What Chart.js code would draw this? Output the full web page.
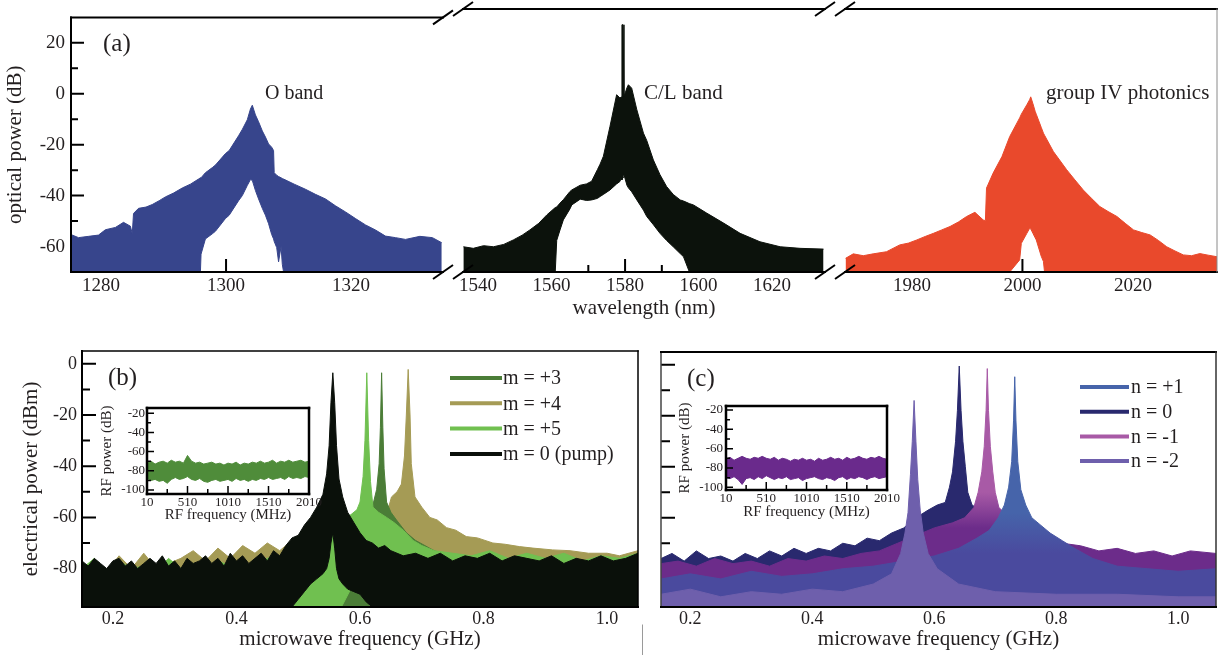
<!DOCTYPE html>
<html><head><meta charset="utf-8">
<script src="https://cdn.jsdelivr.net/npm/chart.js@4.4.1/dist/chart.umd.min.js"></script>
<style>
html,body{margin:0;padding:0;background:#fff;}
body{width:1225px;height:655px;position:relative;overflow:hidden;}
canvas{position:absolute;}
</style></head><body>
<canvas id="ca1" style="left:0px;top:0px" width="460" height="330"></canvas>
<canvas id="ca2" style="left:445px;top:0px" width="400" height="330"></canvas>
<canvas id="ca3" style="left:830px;top:0px" width="395" height="330"></canvas>
<canvas id="cb" style="left:0px;top:330px" width="650" height="325"></canvas>
<canvas id="cc" style="left:645px;top:330px" width="580" height="325"></canvas>
<canvas id="cbi" style="left:90px;top:395px" width="245" height="140"></canvas>
<canvas id="cci" style="left:669px;top:393px" width="245" height="140"></canvas>
<script>
// ---------------- DATA ----------------
// (a) O band
const oX  = [1275.2,1276.4,1278.0,1279.6,1280.7,1282.3,1283.6,1284.7,1285.0,1285.2,1286.0,1287.2,1288.2,1289.3,1290.3,1291.6,1293.0,1294.3,1295.6,1295.9,1296.0,1296.7,1297.8,1298.3,1299.9,1300.5,1302.0,1302.6,1303.4,1303.9,1304.2,1304.7,1305.2,1305.8,1306.3,1306.8,1307.3,1307.6,1307.7,1308.1,1308.4,1308.8,1309.0,1309.2,1310.9,1312.7,1314.3,1315.9,1317.5,1319.1,1320.7,1322.3,1323.9,1325.5,1327.1,1328.7,1331.0,1333.0,1334.5];
const oUp = [-55.3,-56.5,-56,-55.5,-53.4,-52.5,-50.5,-52,-55,-47,-45,-44.5,-43.5,-42,-40.5,-39,-37,-35.5,-33.5,-33,-33,-31,-29,-28,-23.5,-22.3,-16.5,-14,-10.2,-6,-4.5,-8.3,-11,-14.6,-17,-19.7,-21,-22.3,-31,-32,-32.5,-33,-33.3,-33.5,-35.5,-37.5,-39.5,-41.3,-44,-46.4,-49,-51.5,-53.5,-55.9,-56.5,-57.2,-56,-56.5,-58.5];
const oLo = [-70,-70,-70,-70,-70,-70,-70,-70,-70,-70,-70,-70,-70,-70,-70,-70,-70,-70,-70,-70,-63,-57,-55,-54,-49,-47.7,-42,-40,-36,-33.7,-34,-38,-41.3,-45,-47.7,-51,-55.3,-57,-58,-60.4,-66,-60,-67,-70,-70,-70,-70,-70,-70,-70,-70,-70,-70,-70,-70,-70,-70,-70,-70];
// (a) C/L band
const clX  = [1536.0,1538.7,1541.5,1544.2,1547.0,1549.6,1552.0,1554.1,1556.5,1558.7,1561.0,1561.4,1562.3,1563.2,1565.0,1565.5,1567.8,1569.5,1570.9,1572.5,1573.2,1574.1,1575.9,1577.7,1578.6,1579.0,1579.15,1579.45,1579.7,1580.5,1580.9,1581.8,1583.2,1585.0,1585.9,1587.7,1589.5,1591.3,1593.1,1595.0,1595.9,1597.5,1598.6,1602.2,1606.8,1611.3,1616.7,1622.2,1627.6,1634.0];
const clUp = [-60.4,-61,-60,-60.4,-59.5,-57.8,-56,-54,-51.5,-48.3,-45.5,-45.3,-43.8,-42.5,-39.4,-38.8,-37,-36.5,-35.5,-31,-29,-26,-14.6,-2.6,-3.8,-3.5,24,24,-3.3,0,1.2,-0.1,-8.3,-17.2,-20,-27.4,-33,-37.5,-40.5,-42.6,-43,-44,-44.5,-47.6,-51.4,-55.3,-58.5,-60.4,-61,-61.3];
const clLo = [-70,-70,-70,-70,-70,-70,-70,-70,-70,-70,-70,-58,-54,-50.2,-46,-44.5,-42.3,-42.8,-42.6,-42,-41.3,-40.5,-38.8,-36.5,-35.6,-34,-35,-34,-33,-37,-38,-39.5,-42.6,-46.5,-48.9,-52,-55.3,-58,-60.4,-63,-64.2,-70,-70,-70,-70,-70,-70,-70,-70,-70];
// (a) group IV photonics
const g4X  = [1968.0,1969.4,1971.2,1973.0,1975.4,1977.8,1979.4,1980.9,1982.4,1983.9,1985.4,1986.9,1988.4,1989.9,1991.4,1992.9,1993.3,1993.5,1994.7,1996.3,1997.7,1999.5,1999.8,2000.8,2001.3,2001.5,2001.9,2002.3,2002.5,2003.4,2003.8,2004.0,2005.6,2008.0,2009.5,2011.0,2012.5,2014.0,2015.5,2017.1,2018.6,2020.1,2021.6,2023.1,2024.6,2026.1,2027.6,2029.1,2030.6,2032.1,2033.6,2035.2];
const g4Up = [-64.8,-63.1,-63.8,-63.1,-62.3,-59.7,-59,-57.8,-56.5,-55.3,-54,-52.7,-51,-48.9,-47.3,-50.2,-50.5,-38.1,-32.4,-26.1,-18.5,-11.4,-10,-6.4,-4.5,-3.4,-6,-8.9,-10,-15,-17.2,-18,-24.2,-31.1,-35,-38.8,-42,-45.1,-47,-48.9,-51.5,-54,-55,-55.9,-58,-60.4,-62,-63.5,-63.8,-63,-63.6,-64.2];
const g4Lo = [-70,-70,-70,-70,-70,-70,-70,-70,-70,-70,-70,-70,-70,-70,-70,-70,-70,-70,-70,-70,-70,-65.4,-59.1,-55.3,-53.4,-53.6,-55.3,-57,-57.8,-64,-66,-70,-70,-70,-70,-70,-70,-70,-70,-70,-70,-70,-70,-70,-70,-70,-70,-70,-70,-70,-70,-70];

// (b) microwave spectra
const bkX  = [0.150,0.160,0.170,0.180,0.190,0.200,0.210,0.220,0.230,0.240,0.250,0.260,0.270,0.280,0.290,0.300,0.310,0.320,0.330,0.340,0.350,0.360,0.370,0.380,0.390,0.400,0.410,0.420,0.430,0.440,0.450,0.460,0.470,0.480,0.490,0.500,0.510,0.520,0.530,0.540,0.546,0.550,0.553,0.556,0.559,0.562,0.566,0.572,0.580,0.590,0.600,0.610,0.620,0.630,0.640,0.650,0.670,0.690,0.710,0.730,0.750,0.770,0.790,0.810,0.830,0.850,0.870,0.890,0.910,0.930,0.950,0.970,0.990,1.010,1.030,1.050];
const bkUp = [-77,-79,-76,-78,-80,-77,-76,-79,-77,-80,-78,-76,-78,-75,-79,-77,-80,-76,-78,-77,-75,-78,-76,-79,-74,-77,-75,-78,-76,-74,-77,-73,-75,-71,-68,-67,-63,-60,-56,-51,-43,-32,-15,-3.5,-15,-32,-45,-52,-58,-62,-66,-69,-70,-72,-71,-73,-75,-74,-76,-74,-77,-75,-76,-74,-77,-75,-76,-77,-75,-78,-76,-77,-75,-77,-76,-74];
const bkLo = [-95,-95,-95,-95,-95,-95,-95,-95,-95,-95,-95,-95,-95,-95,-95,-95,-95,-95,-95,-95,-95,-95,-95,-95,-95,-95,-95,-95,-95,-95,-95,-95,-95,-95,-95,-92,-89,-86,-84,-82,-80,-76,-70,-66,-72,-80,-84,-86,-88,-89,-90,-93,-95,-95,-95,-95,-95,-95,-95,-95,-95,-95,-95,-95,-95,-95,-95,-95,-95,-95,-95,-95,-95,-95,-95,-95];
const lgX  = [0.150,0.170,0.190,0.210,0.230,0.250,0.270,0.290,0.310,0.330,0.350,0.370,0.390,0.410,0.430,0.450,0.470,0.490,0.510,0.530,0.550,0.570,0.585,0.595,0.600,0.605,0.608,0.611,0.614,0.617,0.621,0.630,0.643,0.655,0.670,0.686,0.700,0.720,0.750,0.780,0.810,0.840,0.870,0.900,0.930,0.960,0.990,1.020,1.050];
const lgUp = [-80,-76,-81,-77,-80,-79,-81,-76,-80,-78,-80,-77,-79,-78,-79,-76,-75,-72,-69,-65,-62,-60,-59,-57,-54,-44,-30,-3.5,-30,-46,-56,-58,-60,-62,-65,-69,-71,-73,-74,-75,-73,-76,-74,-76,-74,-77,-75,-76,-74];
const lgLo = [-95,-95,-95,-95,-95,-95,-95,-95,-95,-95,-95,-95,-95,-95,-95,-95,-95,-95,-95,-95,-95,-95,-88,-87,-86,-86,-85,-85,-88,-95,-95,-95,-95,-95,-95,-95,-95,-95,-95,-95,-95,-95,-95,-95,-95,-95,-95,-95,-95];
const dgX  = [0.150,0.200,0.250,0.300,0.350,0.400,0.450,0.500,0.550,0.580,0.600,0.615,0.622,0.627,0.631,0.633,0.635,0.637,0.639,0.643,0.650,0.659,0.675,0.690,0.720,0.760,0.800,0.850,0.900,0.950,1.000,1.050];
const dgUp = [-82,-81,-82,-80,-82,-80,-79,-76,-71,-66,-63,-58,-54,-49,-39,-25,-3.5,-25,-41,-54,-58,-61,-66,-69,-73,-76,-77,-78,-78,-79,-78,-79];
const olX  = [0.150,0.170,0.190,0.210,0.230,0.250,0.270,0.290,0.310,0.330,0.350,0.370,0.390,0.410,0.430,0.450,0.470,0.490,0.520,0.550,0.580,0.610,0.630,0.643,0.651,0.660,0.667,0.672,0.675,0.678,0.681,0.683,0.689,0.700,0.713,0.725,0.740,0.755,0.772,0.790,0.815,0.835,0.858,0.880,0.912,0.940,0.970,1.000,1.020,1.050];
const olUp = [-81,-79,-81,-75,-80,-74,-80,-78,-76,-73,-77,-72,-76,-71,-74,-70,-73,-69,-68,-67,-65,-62,-60,-59,-52,-50,-47,-36,-20,-2.2,-20,-39,-52,-56,-60,-61,-64,-65,-67.5,-68,-70,-70.5,-71.4,-72,-72.7,-73,-74,-74,-75,-73];

// (c) microwave spectra
const n0X  = [0.152,0.170,0.190,0.210,0.230,0.250,0.270,0.290,0.310,0.330,0.350,0.370,0.390,0.410,0.430,0.450,0.470,0.490,0.510,0.530,0.550,0.570,0.590,0.605,0.618,0.625,0.630,0.635,0.638,0.641,0.644,0.647,0.651,0.655,0.662,0.675,0.690,0.710,0.730,0.760,0.800,0.850,0.900,0.950,1.000,1.062];
const n0Up = [-76,-74,-77,-73,-76,-75,-77,-74,-76,-73,-75,-72,-74,-72,-73,-70,-71,-68,-69,-66,-64,-60,-57,-55,-54,-48,-42,-30,-18,-0.5,-18,-30,-40,-50,-55,-57,-60,-63,-66,-70,-74,-77,-78,-79,-79,-80];
const nm1X  = [0.152,0.180,0.210,0.240,0.270,0.300,0.330,0.360,0.390,0.420,0.450,0.480,0.510,0.540,0.570,0.600,0.630,0.650,0.665,0.672,0.678,0.682,0.685,0.687,0.689,0.692,0.696,0.700,0.706,0.715,0.730,0.750,0.780,0.810,0.840,0.870,0.900,0.930,0.960,0.990,1.020,1.062];
const nm1Up = [-78,-77,-79,-76,-78,-77,-79,-76,-77,-75,-76,-74,-73,-70,-67,-64,-62,-60,-56,-50,-42,-32,-18,-1.5,-18,-32,-42,-50,-56,-58,-61,-64,-67,-70,-71,-73,-72,-74,-73,-75,-73,-74];
const np1X  = [0.152,0.200,0.250,0.300,0.350,0.400,0.450,0.500,0.550,0.600,0.640,0.670,0.690,0.705,0.715,0.722,0.727,0.730,0.732,0.734,0.737,0.742,0.750,0.760,0.775,0.790,0.810,0.830,0.860,0.900,0.950,1.000,1.062];
const np1Up = [-84,-82,-84,-81,-83,-82,-80,-79,-77,-75,-72,-68,-65,-60,-55,-48,-38,-22,-4.7,-22,-38,-49,-55,-60,-63,-66,-69,-72,-76,-79,-80,-81,-80];
const nm2X  = [0.152,0.200,0.250,0.300,0.350,0.400,0.450,0.500,0.530,0.545,0.552,0.557,0.561,0.564,0.567,0.570,0.573,0.577,0.582,0.590,0.605,0.640,0.700,0.800,0.900,1.000,1.062];
const nm2Up = [-90,-88,-91,-89,-90,-88,-89,-86,-82,-74,-66,-58,-43,-30,-14,-30,-45,-57,-66,-74,-80,-86,-89,-90,-90,-91,-91];

// insets (RF noise)
const insX = [10,60,110,160,210,260,310,360,410,460,510,560,610,660,710,760,810,860,910,960,1010,1060,1110,1160,1210,1260,1310,1360,1410,1460,1510,1560,1610,1660,1710,1760,1810,1860,1910,1960,2010];
const biUp = [-72,-70,-73,-71,-70,-72,-69,-71,-70,-72,-64,-70,-72,-71,-73,-72,-71,-73,-72,-74,-72,-73,-71,-74,-72,-73,-71,-72,-70,-72,-71,-69,-72,-70,-71,-69,-71,-70,-69,-71,-70];
const biLo = [-88,-90,-89,-91,-90,-93,-89,-87,-89,-88,-86,-89,-90,-88,-91,-92,-90,-89,-91,-90,-89,-91,-88,-90,-89,-91,-89,-90,-88,-89,-87,-89,-88,-87,-89,-86,-88,-87,-88,-86,-87];
const ciUp = [-71,-69,-72,-70,-68,-70,-71,-69,-70,-68,-70,-71,-69,-72,-70,-71,-73,-71,-72,-70,-72,-71,-73,-70,-72,-71,-69,-71,-70,-72,-69,-71,-70,-68,-70,-71,-69,-70,-68,-70,-71];
const ciLo = [-90,-91,-89,-92,-97,-91,-90,-92,-89,-91,-88,-90,-92,-90,-91,-89,-92,-91,-90,-93,-91,-90,-89,-91,-92,-90,-91,-93,-90,-89,-92,-90,-91,-89,-90,-92,-90,-89,-91,-90,-89];

// ticks
const yTicksA = [-60,-40,-20,0,20], yLabelsA = ['-60','-40','-20','0','20'], yMinorA = [-50,-30,-10,10];
const xTicksO = [1280,1300,1320], xLabelsO = ['1280','1300','1320'], xMinorO = [1290,1310,1330];
const xTicksCL = [1540,1560,1580,1600,1620], xLabelsCL = ['1540','1560','1580','1600','1620'], xMinorCL = [1550,1570,1590,1610,1630];
const xTicksG4 = [1980,2000,2020], xLabelsG4 = ['1980','2000','2020'], xMinorG4 = [1970,1990,2010,2030];
const xTicksMW = [0.2,0.4,0.6,0.8,1.0], xLabelsMW = ['0.2','0.4','0.6','0.8','1.0'], xMinorMW = [0.3,0.5,0.7,0.9];
const yTicksMW = [-80,-60,-40,-20,0], yLabelsMW = ['-80','-60','-40','-20','0'], yMinorMW = [-90,-70,-50,-30,-10];
const xTicksRF = [10,510,1010,1510,2010], xLabelsRF = ['10','510','1010','1510','2010'], xMinorRF = [260,760,1260,1760];
const yTicksRF = [-100,-80,-60,-40,-20], yLabelsRF = ['-100','-80','-60','-40','-20'], yMinorRF = [-90,-70,-50,-30];

// legends
const legendB = ['m = +3','m = +4','m = +5','m = 0 (pump)'];
const legendC = ['n = +1','n = 0','n = -1','n = -2'];
const colorsB = {'m = +3':'#4b7d37','m = +4':'#a59b55','m = +5':'#70c050','m = 0 (pump)':'#0a100a'};
const colorsC = {'n = +1':'#4664aa','n = 0':'#29296e','n = -1':'#a85aa6','n = -2':'#6e5fac'};

// ---------------- RENDER ----------------
const SERIF = '"Liberation Serif", "Times New Roman", Times, serif';
const TXT = '#231f20';

function pts(xs, ys){ return xs.map((x,i)=>({x:x, y:ys[i]})); }
function pair(label, xs, up, lo, color, bg){
  return [
    {label:label, data:pts(xs,up), borderColor:color, backgroundColor:bg||color, borderWidth:1, fill:'+1', pointRadius:0},
    {label:label+' lower', data:pts(xs,lo), borderColor:color, borderWidth:1, fill:false, pointRadius:0}
  ];
}
function single(label, xs, up, color, bg){
  return [{label:label, data:pts(xs,up), borderColor:color, backgroundColor:bg||color, borderWidth:1, fill:'start', pointRadius:0}];
}
// vertical colour transition (peak colour above, noise-floor tint below)
function vgrad(vTop, vBot, cTop, cBot){
  return function(ctx){
    const ch=ctx.chart; if(!ch.chartArea) return cTop;
    const y=ch.scales.y;
    const g=ch.ctx.createLinearGradient(0,y.getPixelForValue(vTop),0,y.getPixelForValue(vBot));
    g.addColorStop(0,cTop); g.addColorStop(1,cBot);
    return g;
  };
}

function drawTicks(chart, tk){
  const {ctx, chartArea:a, scales} = chart;
  ctx.save();
  ctx.strokeStyle = '#000'; ctx.lineWidth = tk.w; ctx.lineCap = 'butt';
  ctx.beginPath();
  if (tk.x){
    const s = scales.x;
    tk.x.major.forEach(v=>{const p=s.getPixelForValue(v); ctx.moveTo(p,a.bottom); ctx.lineTo(p,a.bottom-tk.x.len[0]);});
    tk.x.minor.forEach(v=>{const p=s.getPixelForValue(v); ctx.moveTo(p,a.bottom); ctx.lineTo(p,a.bottom-tk.x.len[1]);});
  }
  if (tk.y){
    const s = scales.y;
    tk.y.major.forEach(v=>{const p=s.getPixelForValue(v); ctx.moveTo(a.left,p); ctx.lineTo(a.left+tk.y.len[0],p);});
    tk.y.minor.forEach(v=>{const p=s.getPixelForValue(v); ctx.moveTo(a.left,p); ctx.lineTo(a.left+tk.y.len[1],p);});
  }
  ctx.stroke();
  ctx.restore();
}

function deco(o){
  return {
    id:'deco',
    beforeDatasetsDraw(chart){
      const {ctx, chartArea:a} = chart;
      if (o.bg){ ctx.save(); ctx.fillStyle='#fff'; ctx.fillRect(a.left,a.top,a.right-a.left,a.bottom-a.top); ctx.restore(); }
      if (o.tk && !o.tkTop) drawTicks(chart, o.tk);
    },
    afterDatasetsDraw(chart){
      const {ctx, chartArea:a} = chart;
      if (o.tk && o.tkTop) drawTicks(chart, o.tk);
      ctx.save();
      (o.frame||[]).forEach(f=>{
        ctx.strokeStyle=f.c; ctx.lineWidth=f.w; ctx.lineCap='square';
        ctx.beginPath();
        if (f.s==='top'){ctx.moveTo(a.left,a.top);ctx.lineTo(a.right,a.top);}
        if (f.s==='bottom'){ctx.moveTo(a.left,a.bottom);ctx.lineTo(a.right,a.bottom);}
        if (f.s==='left'){ctx.moveTo(a.left,a.top);ctx.lineTo(a.left,a.bottom);}
        if (f.s==='right'){ctx.moveTo(a.right,a.top);ctx.lineTo(a.right,a.bottom);}
        ctx.stroke();
      });
      (o.breaks||[]).forEach(side=>{
        const x = side==='left'?a.left:a.right;
        ctx.strokeStyle='#000'; ctx.lineWidth=2; ctx.lineCap='butt';
        [a.top,a.bottom].forEach(y=>{ctx.beginPath();ctx.moveTo(x-10,y+7);ctx.lineTo(x+10,y-7);ctx.stroke();});
      });
      (o.lines||[]).forEach(l=>{
        ctx.strokeStyle=l.c; ctx.lineWidth=l.w; ctx.beginPath();
        ctx.moveTo(l.x1-o.off[0],l.y1-o.off[1]); ctx.lineTo(l.x2-o.off[0],l.y2-o.off[1]); ctx.stroke();
      });
      (o.texts||[]).forEach(t=>{
        ctx.fillStyle=TXT; ctx.font=t.size+'px '+SERIF; ctx.textAlign='left'; ctx.textBaseline='alphabetic';
        ctx.fillText(t.t, t.x-o.off[0], t.y-o.off[1]);
      });
      if (o.legend){
        const L=o.legend;
        L.items.forEach((name,i)=>{
          const y=L.y0+i*L.dy-o.off[1];
          ctx.strokeStyle=L.colors[name]; ctx.lineWidth=4; ctx.lineCap='butt';
          ctx.beginPath(); ctx.moveTo(L.x1-o.off[0],y); ctx.lineTo(L.x2-o.off[0],y); ctx.stroke();
          ctx.fillStyle=TXT; ctx.font=L.size+'px '+SERIF; ctx.textAlign='left'; ctx.textBaseline='middle';
          ctx.fillText(name, L.tx-o.off[0], y+1);
        });
      }
      ctx.restore();
    }
  };
}

function mk(id, o){
  const tickFont={family:SERIF,size:o.tfs};
  const titleFont={family:SERIF,size:o.titfs||21};
  const xs={
    type:'linear', min:o.xr[0], max:o.xr[1], bounds:'data',
    afterFit:s=>{s.height=o.xh;},
    afterBuildTicks:s=>{s.ticks=o.xt.map(v=>({value:v}));},
    ticks:{autoSkip:false,maxRotation:0,minRotation:0,padding:o.xpad,font:tickFont,color:TXT,callback:(v,i)=>o.xl[i]},
    grid:{display:false,drawTicks:false}, border:{display:false},
    title:{display:!!o.xtitle,text:o.xtitle||'',font:titleFont,color:TXT,padding:{top:0,bottom:o.xtpad||0}}
  };
  const ys={
    type:'linear', min:o.yr[0], max:o.yr[1], bounds:'data', display:!!o.yshow,
    afterFit:s=>{if(o.yshow) s.width=o.yw;},
    afterBuildTicks:s=>{s.ticks=o.yt.map(v=>({value:v}));},
    ticks:{autoSkip:false,padding:o.ypad||0,font:tickFont,color:TXT,callback:(v,i)=>o.yl[i]},
    grid:{display:false,drawTicks:false}, border:{display:false},
    title:{display:!!o.ytitle,text:o.ytitle||'',font:titleFont,color:TXT,padding:{top:o.ytpad||0,bottom:0}}
  };
  return new Chart(document.getElementById(id),{
    type:'line',
    data:{datasets:o.datasets},
    options:{
      responsive:false, animation:false, devicePixelRatio:1, events:[],
      layout:{padding:o.pad},
      plugins:{legend:{display:false},tooltip:{enabled:false}},
      elements:{point:{radius:0},line:{tension:0}},
      scales:{x:xs,y:ys}
    },
    plugins:[deco(o)]
  });
}

const blk={c:'#000',w:2};
// panel (a)
mk('ca1',{off:[0,0],pad:{left:0,top:9,right:17,bottom:0},xr:[1275.2,1334.7],yr:[-70,30],
  xt:xTicksO,xl:xLabelsO,yt:yTicksA,yl:yLabelsA,yshow:true,yw:71,xh:58,tfs:19,ypad:6,xpad:3,
  ytitle:'optical power (dB)',ytpad:3,
  datasets:pair('O band',oX,oUp,oLo,'#37458c'),
  tk:{w:2,x:{major:xTicksO,minor:xMinorO,len:[13,7]},y:{major:yTicksA,minor:yMinorA,len:[13,7]}},
  frame:[{s:'left',...blk},{s:'top',...blk},{s:'bottom',...blk}],breaks:['right'],
  texts:[{t:'(a)',x:103,y:51,size:25},{t:'O band',x:265,y:99,size:20}]
});
mk('ca2',{off:[445,0],pad:{left:18,top:9,right:20,bottom:0},xr:[1535.9,1634.4],yr:[-70,30],
  xt:xTicksCL,xl:xLabelsCL,yt:yTicksA,yl:yLabelsA,yshow:false,xh:58,tfs:19,xpad:3,
  xtitle:'wavelength (nm)',xtpad:9,
  datasets:pair('C/L band',clX,clUp,clLo,'#0c120c'),
  tk:{w:2,x:{major:xTicksCL,minor:xMinorCL,len:[13,7]}},
  frame:[{s:'top',...blk},{s:'bottom',...blk}],breaks:['left','right'],
  texts:[{t:'C/L band',x:644,y:99,size:21}]
});
mk('ca3',{off:[830,0],pad:{left:15,top:9,right:8,bottom:0},xr:[1967.9,2035.2],yr:[-70,30],
  xt:xTicksG4,xl:xLabelsG4,yt:yTicksA,yl:yLabelsA,yshow:false,xh:58,tfs:19,xpad:3,
  datasets:pair('group IV photonics',g4X,g4Up,g4Lo,'#e9492c'),
  tk:{w:2,x:{major:xTicksG4,minor:xMinorG4,len:[13,7]}},
  frame:[{s:'top',...blk},{s:'bottom',...blk},{s:'right',c:'#8a8a8a',w:1}],breaks:['left'],
  texts:[{t:'group IV photonics',x:1046,y:99,size:21}]
});

// panel (b)
mk('cb',{off:[0,330],pad:{left:0,top:21,right:12,bottom:0},xr:[0.15,1.05],yr:[-95,5],
  xt:xTicksMW,xl:xLabelsMW,yt:yTicksMW,yl:yLabelsMW,yshow:true,yw:82,xh:48,tfs:18,ypad:5,xpad:1,
  ytitle:'electrical power (dBm)',ytpad:19,xtitle:'microwave frequency (GHz)',xtpad:3,
  datasets:[].concat(
    pair('m = 0 (pump)',bkX,bkUp,bkLo,colorsB['m = 0 (pump)']),
    pair('m = +5',lgX,lgUp,lgLo,colorsB['m = +5']),
    single('m = +3',dgX,dgUp,colorsB['m = +3']),
    single('m = +4',olX,olUp,colorsB['m = +4'])
  ),
  tk:{w:2,x:{major:xTicksMW,minor:xMinorMW,len:[13,7]},y:{major:yTicksMW,minor:yMinorMW,len:[14,8]}},
  frame:[{s:'left',...blk},{s:'top',c:'#000',w:1.5},{s:'right',c:'#000',w:1.5},{s:'bottom',...blk}],
  lines:[{x1:642.5,y1:625,x2:642.5,y2:655,c:'#9a9a9a',w:1}],
  texts:[{t:'(b)',x:108,y:385,size:25}],
  legend:{items:legendB,colors:colorsB,x1:450,x2:502,tx:503,y0:378,dy:25.3,size:20}
});

// panel (c)
const gN1 = vgrad(-50,-64,'#a85aa6','#6c2c8a');
const gP1 = vgrad(-58,-74,'#4664aa','#4a4a9e');
mk('cc',{off:[645,330],pad:{left:16,top:22,right:9,bottom:0},xr:[0.152,1.062],yr:[-95,5],
  xt:xTicksMW,xl:xLabelsMW,yt:yTicksMW,yl:yLabelsMW,yshow:false,xh:48,tfs:18,xpad:1,
  xtitle:'microwave frequency (GHz)',xtpad:3,
  datasets:[].concat(
    single('n = -2',nm2X,nm2Up,colorsC['n = -2']),
    single('n = +1',np1X,np1Up,gP1,gP1),
    single('n = -1',nm1X,nm1Up,gN1,gN1),
    single('n = 0',n0X,n0Up,colorsC['n = 0'])
  ),
  tk:{w:2,x:{major:xTicksMW,minor:xMinorMW,len:[13,7]},y:{major:yTicksMW,minor:yMinorMW,len:[14,9]}},
  frame:[{s:'left',c:'#444',w:1.5},{s:'top',...blk},{s:'right',c:'#333',w:1.5},{s:'bottom',...blk}],
  texts:[{t:'(c)',x:687,y:386,size:25}],
  legend:{items:legendC,colors:colorsC,x1:1080,x2:1129,tx:1131,y0:387,dy:24.7,size:20}
});

// insets
mk('cbi',{off:[90,395],pad:{left:0,top:13,right:26,bottom:0},xr:[10,2010],yr:[-104.2,-14.5],
  xt:xTicksRF,xl:xLabelsRF,yt:yTicksRF,yl:yLabelsRF,yshow:true,yw:57,xh:41,tfs:13,titfs:15,ypad:2,xpad:1,
  ytitle:'RF power (dB)',ytpad:8,xtitle:'RF frequency (MHz)',xtpad:11,bg:true,tkTop:true,
  datasets:pair('RF (b)',insX,biUp,biLo,'#4f8c3a'),
  tk:{w:1.5,x:{major:xTicksRF,minor:xMinorRF,len:[8,5]},y:{major:yTicksRF,minor:yMinorRF,len:[7,4]}},
  frame:[{s:'left',c:'#000',w:2.5},{s:'top',c:'#000',w:2.5},{s:'right',c:'#000',w:2.5},{s:'bottom',c:'#000',w:2.5}]
});
mk('cci',{off:[669,393],pad:{left:0,top:13,right:27,bottom:0},xr:[10,2010],yr:[-102.8,-15.9],
  xt:xTicksRF,xl:xLabelsRF,yt:yTicksRF,yl:yLabelsRF,yshow:true,yw:57,xh:43,tfs:13,titfs:15,ypad:3,xpad:1,
  ytitle:'RF power (dB)',ytpad:7,xtitle:'RF frequency (MHz)',xtpad:12,bg:true,tkTop:true,
  datasets:pair('RF (c)',insX,ciUp,ciLo,'#6a2a8c'),
  tk:{w:1.5,x:{major:xTicksRF,minor:xMinorRF,len:[8,5]},y:{major:yTicksRF,minor:yMinorRF,len:[7,4]}},
  frame:[{s:'left',c:'#000',w:2.5},{s:'top',c:'#000',w:2.5},{s:'right',c:'#000',w:2.5},{s:'bottom',c:'#000',w:2.5}]
});
</script>
</body></html>
